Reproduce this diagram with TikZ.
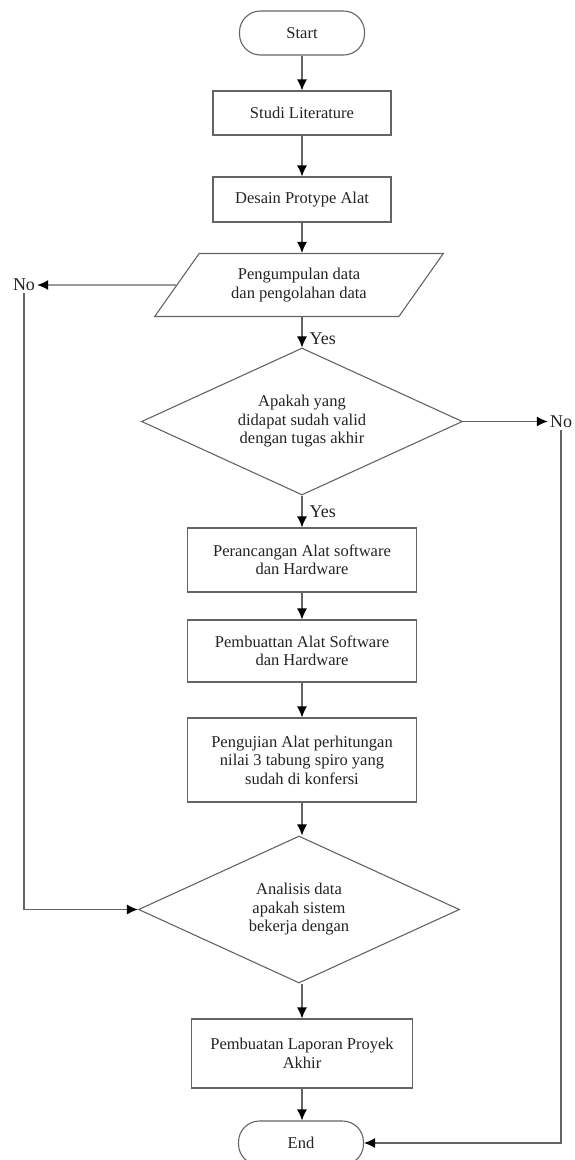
\documentclass[tikz,border=0pt]{standalone}
\usepackage{fontspec}
\setmainfont{Liberation Serif}
\usepackage{xcolor}
\usepackage{tikz}
\usetikzlibrary{arrows.meta, positioning, calc, shapes.geometric}
\definecolor{LineGray}{RGB}{100, 100, 100}
\definecolor{TextDark}{RGB}{35, 35, 35}

\begin{document}
\begin{tikzpicture}[x=1pt, y=-1pt,
    every node/.style={text=TextDark, font=\fontsize{16.5}{18.5}\selectfont, align=center},
    terminal/.style={draw=LineGray, line width=1.1pt, rounded corners=21pt,
                     minimum width=125pt, minimum height=44pt, inner sep=0pt},
    process/.style={draw=LineGray, line width=1.1pt, minimum width=229pt, inner sep=0pt},
    iobox/.style={draw=LineGray, line width=1.1pt, trapezium, trapezium left angle=48,
                  trapezium right angle=132, trapezium stretches=true,
                  minimum width=289pt, minimum height=63pt, inner sep=0pt},
    decision/.style={draw=LineGray, line width=1.1pt, diamond, aspect=2.18,
                     minimum width=321pt, minimum height=147pt, inner sep=0pt},
    answer/.style={font=\fontsize{18}{20}\selectfont, inner sep=2pt},
    flow/.style={draw=LineGray, line width=1.2pt,
                 -{Latex[length=11pt, width=10pt, fill=black, color=black]}}]

  \useasboundingbox (0,0) rectangle (574,1160);

  \node[terminal] (start) at (302,33) {Start};
  \node[process, minimum width=178pt, minimum height=44pt] (studi) at (302,113) {Studi Literature};
  \node[process, minimum width=178pt, minimum height=45pt] (desain) at (302,199.5) {Desain Protype Alat};
  \node[iobox] (kumpul) at (299,285) {Pengumpulan data\\dan pengolahan data};
  \node[decision] (valid) at (302,421.5) {Apakah yang\\didapat sudah valid\\dengan tugas akhir};
  \node[process, minimum height=64pt] (rancang) at (302,560) {Perancangan Alat software\\dan Hardware};
  \node[process, minimum height=62pt] (buat) at (302,651) {Pembuattan Alat Software\\dan Hardware};
  \node[process, minimum height=84pt] (uji) at (302,760) {Pengujian Alat perhitungan\\nilai 3 tabung spiro yang\\sudah di konfersi};
  \node[decision] (analisis) at (299,909.5) {Analisis data\\apakah sistem\\bekerja dengan};
  \node[process, minimum width=221pt, minimum height=69pt] (laporan) at (302,1053.5) {Pembuatan Laporan Proyek\\Akhir};
  \node[terminal] (end) at (301,1143) {End};

  \node[answer] (noLeft) at (24,285) {No};
  \node[answer] (noRight) at (561,421.5) {No};

  \draw[flow] (start) -- (studi);
  \draw[flow] (studi) -- (desain);
  \draw[flow] (desain.south) -- (desain.south |- kumpul.north);
  \draw[flow] (kumpul.south -| valid.north) -- node[answer, right, xshift=5pt, pos=0.7] {Yes} (valid.north);
  \draw[flow] (valid) -- node[answer, right, xshift=5pt, pos=0.5] {Yes} (rancang);
  \draw[flow] (rancang) -- (buat);
  \draw[flow] (buat) -- (uji);
  \draw[flow] (uji.south) -- (uji.south |- analisis.north);
  \draw[flow] (analisis.south -| laporan.north) -- (laporan.north);
  \draw[flow] (laporan.south) -- (laporan.south |- end.north);

  \draw[flow] (kumpul.west) -- (noLeft.east);
  \draw[flow] (noLeft.south) |- (analisis.west);
  \draw[flow] (valid.east) -- (noRight.west);
  \draw[flow] (noRight.south) |- (end.east);
\end{tikzpicture}
\end{document}
